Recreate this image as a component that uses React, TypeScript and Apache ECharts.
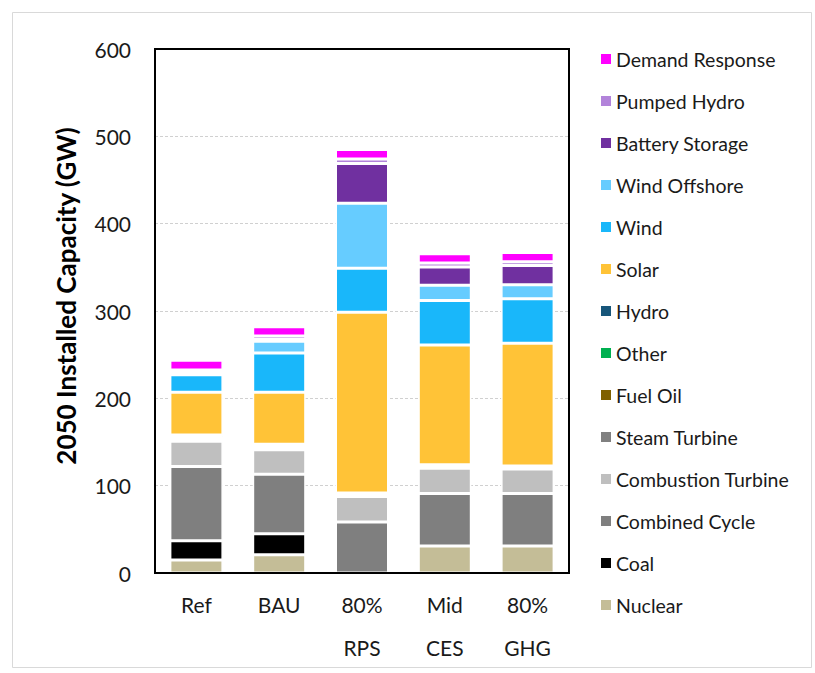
import React, { useEffect, useRef } from "react";
import * as echarts from "echarts";

const categories = ["Ref", "BAU", "80%\nRPS", "Mid\nCES", "80%\nGHG"];
const yTicks = [0, 100, 200, 300, 400, 500, 600];

const nuclear = [15, 21, 0, 31, 31];
const coal = [22, 24, 0, 0, 0];
const combinedCycle = [85, 68, 58.5, 60, 60];
const combustionTurbine = [29, 28, 29, 29, 28];
const steamTurbine = [1.5, 1.5, 0.5, 0.5, 0.5];
const fuelOil = [1, 1, 0, 0, 0];
const other = [1, 1, 0.5, 0.5, 0.5];
const hydro = [3.5, 3, 3, 3, 2.5];
const solar = [49, 59.5, 207, 137, 140.5];
const wind = [20, 45, 50.5, 51, 51];
const windOffshore = [1, 13.5, 74.5, 17.5, 16];
const batteryStorage = [1.5, 2, 45.5, 21, 22];
const pumpedHydro = [3, 4, 5, 4.5, 4.5];
const demandResponse = [11, 10.5, 11, 10.5, 10.5];

const seriesDefs = [
  { name: "Nuclear", data: nuclear, color: "#C4BD97" },
  { name: "Coal", data: coal, color: "#000000" },
  { name: "Combined Cycle", data: combinedCycle, color: "#7F7F7F" },
  { name: "Combustion Turbine", data: combustionTurbine, color: "#BFBFBF" },
  { name: "Steam Turbine", data: steamTurbine, color: "#808080" },
  { name: "Fuel Oil", data: fuelOil, color: "#7F6000" },
  { name: "Other", data: other, color: "#00B050" },
  { name: "Hydro", data: hydro, color: "#17567A" },
  { name: "Solar", data: solar, color: "#FFC337" },
  { name: "Wind", data: wind, color: "#19B7FA" },
  { name: "Wind Offshore", data: windOffshore, color: "#66CCFF" },
  { name: "Battery Storage", data: batteryStorage, color: "#7030A0" },
  { name: "Pumped Hydro", data: pumpedHydro, color: "#B283DA" },
  { name: "Demand Response", data: demandResponse, color: "#FF00FF" },
];

const FONT = "Lato, 'Open Sans', sans-serif";

export default function App() {
  const ref = useRef<HTMLDivElement>(null);
  useEffect(() => {
    if (!ref.current) return;
    const chart = echarts.init(ref.current, undefined, { renderer: "svg" });
    chart.setOption({
      animation: false,
      backgroundColor: "#ffffff",
      textStyle: { fontFamily: FONT },
      graphic: [
        {
          type: "rect",
          shape: { x: 12.5, y: 12.5, width: 799, height: 655 },
          style: { fill: "none", stroke: "#D9D9D9", lineWidth: 1 },
          silent: true,
        },
        {
          type: "rect",
          z: 100,
          shape: { x: 155, y: 49, width: 414, height: 524 },
          style: { fill: "none", stroke: "#000", lineWidth: 2 },
          silent: true,
        },
      ],
      grid: {
        left: 155,
        top: 49,
        width: 414,
        height: 524,
        show: false,
      },
      legend: {
        orient: "vertical",
        left: 601,
        top: 49,
        padding: 0,
        itemWidth: 10,
        itemHeight: 10,
        itemGap: 22,
        icon: "rect",
        data: seriesDefs.map((s) => s.name).reverse(),
        itemStyle: { borderWidth: 0 },
        textStyle: { fontSize: 19.5, color: "#1a1a1a", lineHeight: 20, fontFamily: FONT },
      },
      xAxis: {
        type: "category",
        data: categories,
        axisTick: { show: false },
        axisLine: { show: true, lineStyle: { color: "#000", width: 2 } },
        axisLabel: { fontSize: 21, color: "#1a1a1a", lineHeight: 43, margin: 10, fontFamily: FONT },
      },
      yAxis: {
        type: "value",
        min: yTicks[0],
        max: yTicks[yTicks.length - 1],
        interval: 100,
        name: "2050 Installed Capacity (GW)",
        nameLocation: "middle",
        nameGap: 76,
        nameTextStyle: {
          fontSize: 26,
          fontWeight: "bold",
          color: "#000",
          fontFamily: FONT,
          padding: [0, 0, 0, 30],
        },
        axisLine: { show: false },
        axisTick: { show: false },
        axisLabel: { fontSize: 21, color: "#1a1a1a", margin: 24, fontFamily: FONT },
        splitLine: { show: true, lineStyle: { color: "#D0D0D0", width: 1, type: [3, 2] } },
      },
      series: seriesDefs.map((s) => ({
        name: s.name,
        type: "bar",
        stack: "total",
        barWidth: 53,
        data: s.data.map((v) => (v === 0 ? null : v)),
        itemStyle: { color: s.color, borderColor: "#ffffff", borderWidth: 1.5 },
      })),
    });
    return () => chart.dispose();
  }, []);
  return (
    <div
      ref={ref}
      style={{ position: "fixed", left: 0, top: 0, width: 815, height: 673 }}
    />
  );
}
